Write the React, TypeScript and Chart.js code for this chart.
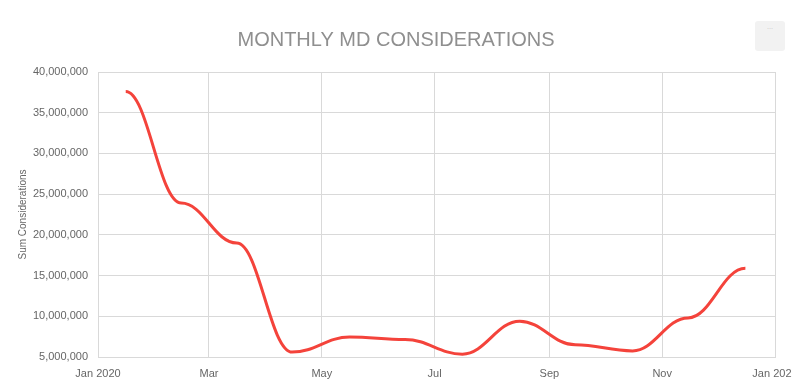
import React, { useEffect, useRef } from "react";
import { Chart, registerables } from "chart.js";

Chart.register(...registerables);

// Data (x = day of year 2020, 0 = Jan 1)
const monthDays = [15, 45, 75, 105, 136, 166, 197, 228, 258, 289, 319, 350];
const considerations = [
  37600000, 23900000, 19000000, 5600000, 7450000, 7150000, 5350000, 9400000,
  6500000, 5750000, 9800000, 15900000,
];
const xTickDays = [0, 60, 121, 182, 244, 305, 366];
const xTickLabels = ["Jan 2020", "Mar", "May", "Jul", "Sep", "Nov", "Jan 2021"];
const yTicks = [5000000, 10000000, 15000000, 20000000, 25000000, 30000000, 35000000, 40000000];

const FONT = "'Liberation Sans', Arial, sans-serif";

// Smooth curve with horizontal tangents at every data point
const smoothHandles = {
  id: "smoothHandles",
  beforeDatasetDraw(chart: any, args: any) {
    const meta = args.meta;
    if (!meta || !meta.dataset) return;
    meta.dataset.updateControlPoints(chart.chartArea, meta.indexAxis);
    const pts = meta.data;
    const k = 0.4;
    for (let i = 0; i < pts.length; i++) {
      const p = pts[i];
      const prev = pts[i - 1];
      const next = pts[i + 1];
      p.cp1x = prev ? p.x - (p.x - prev.x) * k : p.x;
      p.cp1y = p.y;
      p.cp2x = next ? p.x + (next.x - p.x) * k : p.x;
      p.cp2y = p.y;
    }
  },
};

export default function App() {
  const ref = useRef<HTMLCanvasElement | null>(null);

  useEffect(() => {
    document.body.style.margin = "0";
    const canvas = ref.current;
    if (!canvas) return;
    const chart = new Chart(canvas, {
      type: "line",
      data: {
        datasets: [
          {
            data: monthDays.map((d, i) => ({ x: d, y: considerations[i] })),
            borderColor: "#f4433b",
            borderWidth: 3,
            pointRadius: 0,
            tension: 0.4,
            fill: false,
            yAxisID: "y",
          },
        ],
      },
      options: {
        animation: false,
        responsive: false,
        devicePixelRatio: 1,
        layout: { padding: 0 },
        plugins: {
          legend: { display: false },
          tooltip: { enabled: false },
          title: {
            display: true,
            text: "MONTHLY MD CONSIDERATIONS",
            color: "#8f8f8f",
            font: { family: FONT, size: 20, weight: "normal" },
            padding: { top: 28, bottom: 20 },
          },
        },
        scales: {
          x: {
            type: "linear",
            min: 0,
            max: 366,
            afterBuildTicks: (scale: any) => {
              scale.ticks = xTickDays.map((v) => ({ value: v }));
            },
            afterFit: (scale: any) => {
              scale.height = 31;
              scale.paddingLeft = 0;
              scale.paddingRight = 0;
            },
            ticks: {
              autoSkip: false,
              maxRotation: 0,
              padding: 10,
              color: "#666666",
              font: { family: FONT, size: 11 },
              callback: (value: any) => {
                const i = xTickDays.indexOf(Number(value));
                return i >= 0 ? xTickLabels[i] : "";
              },
            },
            grid: { color: "#d9d9d9", drawTicks: false, lineWidth: 1 },
            border: { color: "#d9d9d9" },
          },
          y: {
            type: "linear",
            position: "left",
            min: 5000000,
            max: 40000000,
            afterBuildTicks: (scale: any) => {
              scale.ticks = yTicks.map((v) => ({ value: v }));
            },
            afterFit: (scale: any) => {
              scale.width = 98;
            },
            title: {
              display: true,
              text: "Sum Considerations",
              color: "#666666",
              font: { family: FONT, size: 10 },
              padding: { top: 17, bottom: 0 },
            },
            ticks: {
              padding: 10,
              color: "#666666",
              font: { family: FONT, size: 11 },
              callback: (value: any) => Number(value).toLocaleString("en-US"),
            },
            grid: { color: "#d9d9d9", drawTicks: false, lineWidth: 1 },
            border: { color: "#d9d9d9" },
          },
          yRight: {
            type: "linear",
            position: "right",
            display: true,
            afterFit: (scale: any) => {
              scale.width = 17;
            },
            ticks: { display: false },
            grid: { display: false, drawTicks: false },
            border: { display: false },
          },
        },
      },
      plugins: [smoothHandles],
    });
    return () => chart.destroy();
  }, []);

  return (
    <div style={{ position: "relative", width: 792, height: 388, overflow: "hidden" }}>
      <canvas ref={ref} width={792} height={388} style={{ width: 792, height: 388, display: "block" }} />
      <div
        style={{
          position: "absolute",
          left: 755,
          top: 21,
          width: 30,
          height: 30,
          background: "#f2f2f2",
          borderRadius: 3,
          color: "#aaaaaa",
          fontFamily: FONT,
          fontSize: 6,
          lineHeight: "14px",
          textAlign: "center",
        }}
      >
        ···
      </div>
    </div>
  );
}
